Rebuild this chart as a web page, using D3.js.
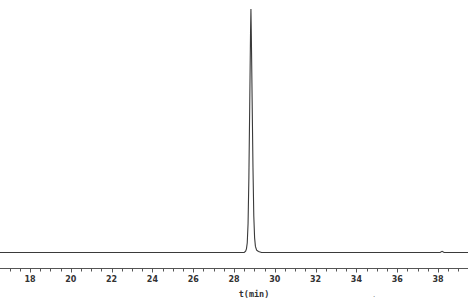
<!DOCTYPE html>
<html>
<head>
<meta charset="utf-8">
<script src="https://cdn.jsdelivr.net/npm/d3@7"></script>
<style>
  body { margin: 0; background: #fff; }
  svg { display: block; }
</style>
</head>
<body>
<div id="chart"></div>
<script>
// chromatogram trace (time in min, signal in % of the peak)
const times = [16.5, 28.5, 28.57, 28.61, 28.65, 28.69, 28.73, 28.77, 28.81, 28.83, 28.85, 28.89,
  28.93, 28.97, 29.01, 29.05, 29.11, 29.2, 29.35, 38.1, 38.2, 38.3, 39.5];
const signal = [0, 0, 0.5, 1.5, 4, 12, 31, 60, 90, 100, 89, 62,
  35, 15, 6, 2.5, 1, 0.4, 0, 0, 0.5, 0, 0];
const tickLabels = [18, 20, 22, 24, 26, 28, 30, 32, 34, 36, 38];
const axisTitle = "t(min)";

const width = 468, height = 306;

const svg = d3.select("#chart")
  .append("svg")
  .attr("width", width)
  .attr("height", height);

const x = d3.scaleLinear()
  .domain([16.53, 39.47])
  .range([0, width]);

const y = d3.scaleLinear()
  .domain([0, 100])
  .range([252.5, 9]);

const points = times.map((t, i) => [t, signal[i]]);

svg.append("path")
  .datum(points)
  .attr("d", d3.line().x(d => x(d[0])).y(d => y(d[1])))
  .attr("fill", "none")
  .attr("stroke", "#3a3a3a")
  .attr("stroke-width", 1.1);

// time axis
const axisY = 268.5;
const minorTicks = d3.range(16.5, 39.6, 0.5);

const axis = svg.append("g").attr("transform", `translate(0,${axisY})`);

axis.append("line")
  .attr("x1", 0)
  .attr("x2", width)
  .attr("stroke", "#555");

axis.selectAll(".tick")
  .data(minorTicks)
  .enter()
  .append("line")
  .attr("class", "tick")
  .attr("x1", d => Math.round(x(d)) + 0.5)
  .attr("x2", d => Math.round(x(d)) + 0.5)
  .attr("y1", 0)
  .attr("y2", d => tickLabels.includes(d) ? 4 : 3)
  .attr("stroke", "#555");

axis.selectAll(".lbl")
  .data(tickLabels)
  .enter()
  .append("text")
  .attr("class", "lbl")
  .attr("x", d => x(d))
  .attr("y", 13)
  .attr("text-anchor", "middle")
  .attr("font-family", "DejaVu Sans")
  .attr("font-weight", "bold")
  .attr("font-size", 8)
  .attr("fill", "#333")
  .text(d => d);

svg.append("text")
  .attr("x", 254)
  .attr("y", 297)
  .attr("text-anchor", "middle")
  .attr("font-family", "DejaVu Sans Mono")
  .attr("font-weight", "bold")
  .attr("font-size", 8.5)
  .attr("fill", "#333")
  .text(axisTitle);

svg.append("text")
  .attr("x", 373)
  .attr("y", 297)
  .attr("font-family", "DejaVu Sans")
  .attr("font-size", 7)
  .attr("fill", "#666")
  .text(".");
</script>
</body>
</html>
